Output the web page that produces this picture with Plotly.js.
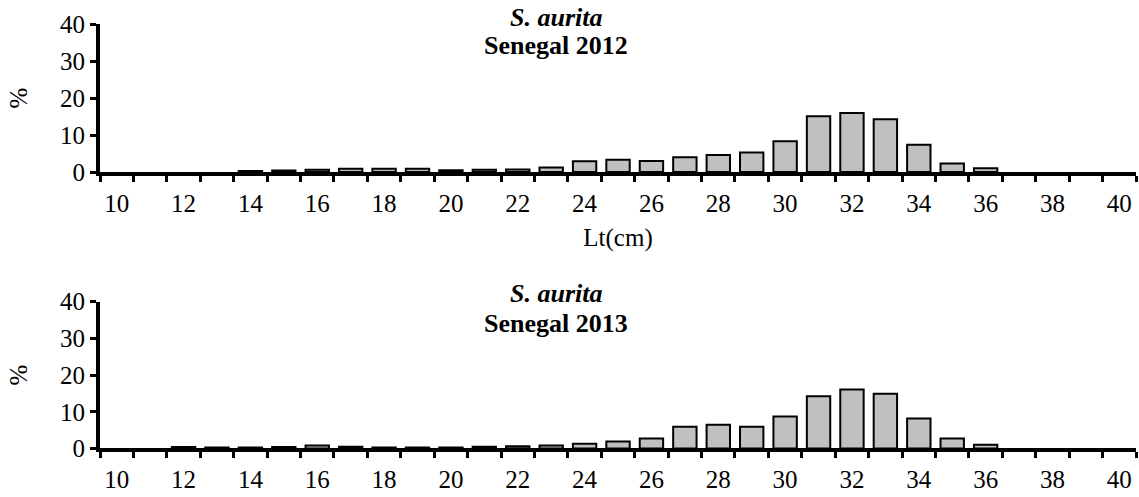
<!DOCTYPE html>
<html>
<head>
<meta charset="utf-8">
<script src="https://cdn.plot.ly/plotly-3.0.1.min.js"></script>
<style>html,body{margin:0;padding:0;background:#fff;}#chart{width:1139px;height:497px;}</style>
</head>
<body>
<div id="chart"></div>
<script>
// Length classes (cm)
const lengths = [10,11,12,13,14,15,16,17,18,19,20,21,22,23,24,25,26,27,28,29,30,31,32,33,34,35,36,37,38,39,40];
// Percent frequency, Senegal 2012
const pct2012 = [0,0,0,0,0.3,0.4,0.6,0.9,0.9,0.9,0.5,0.6,0.7,1.2,2.9,3.3,3.0,4.0,4.6,5.3,8.3,15.1,16.0,14.3,7.4,2.3,1.0,0,0,0,0];
// Percent frequency, Senegal 2013
const pct2013 = [0,0,0.4,0.3,0.3,0.4,0.8,0.5,0.3,0.3,0.3,0.5,0.6,0.8,1.3,1.9,2.7,5.9,6.5,5.9,8.7,14.2,16.1,14.9,8.2,2.7,1.0,0,0,0,0];
const tickLabels = ['10','12','14','16','18','20','22','24','26','28','30','32','34','36','38','40'];
const tickPositions = tickLabels.map(Number);
const boundaries = lengths.map(v => v - 0.5).concat([lengths[lengths.length-1] + 0.5]);

const font = '"Liberation Serif", "Times New Roman", Times, serif';
function barStyle(vals){
  return {color:'#C0C0C0', line:{color:'#000', width: vals.map(v => v > 0 ? 2 : 0)}};
}

const traces = [
  {type:'bar', x:lengths, y:pct2012, xaxis:'x', yaxis:'y', width:0.7, marker:barStyle(pct2012), hoverinfo:'x+y'},
  {type:'bar', x:lengths, y:pct2013, xaxis:'x2', yaxis:'y2', width:0.7, marker:barStyle(pct2013), hoverinfo:'x+y'}
];

function xax(anchor, withTitle){
  const a = {
    anchor: anchor, domain:[0.0878, 0.9974], range:[9.5, 40.5],
    tickmode:'array', tickvals:tickPositions, ticktext:tickLabels,
    ticks:'', showline:true, linecolor:'#000', linewidth:4,
    showgrid:false, zeroline:false, ticklabelstandoff:6,
    tickfont:{family:font, size:25, color:'#000'},
    minor:{tickmode:'array', tickvals:boundaries, ticks:'outside', ticklen:6, tickwidth:3, tickcolor:'#000', showgrid:false},
    fixedrange:true
  };
  if (withTitle) a.title = {text:'Lt(cm)', font:{family:font, size:25, color:'#000'}, standoff:13};
  return a;
}
function yax(anchor, domain){
  return {
    anchor: anchor, domain: domain, range:[0,40], tickmode:'linear', tick0:0, dtick:10,
    ticks:'outside', ticklen:6, tickwidth:3, tickcolor:'#000',
    showline:true, linecolor:'#000', linewidth:4, showgrid:false, zeroline:false,
    tickfont:{family:font, size:25, color:'#000'},
    title:{text:'%', font:{family:font, size:25, color:'#000'}, standoff:26},
    fixedrange:true
  };
}

const titleFont = {family:font, size:26, color:'#000'};
const layout = {
  width:1139, height:497,
  margin:{l:0, r:0, t:0, b:0},
  paper_bgcolor:'#fff', plot_bgcolor:'#fff',
  showlegend:false, bargap:0,
  font:{family:font, color:'#000'},
  xaxis: xax('y', true),
  yaxis: yax('x', [0.6539, 0.9511]),
  xaxis2: xax('y2', false),
  yaxis2: yax('x2', [0.0976, 0.3930]),
  annotations:[
    {xref:'paper', yref:'paper', x:556/1139, y:1-17/497, text:'<b><i>S. aurita</i></b>', showarrow:false, font:titleFont, xanchor:'center', yanchor:'middle', borderpad:0},
    {xref:'paper', yref:'paper', x:556/1139, y:1-45/497, text:'<b>Senegal 2012</b>', showarrow:false, font:titleFont, xanchor:'center', yanchor:'middle', borderpad:0},
    {xref:'paper', yref:'paper', x:556/1139, y:1-293/497, text:'<b><i>S. aurita</i></b>', showarrow:false, font:titleFont, xanchor:'center', yanchor:'middle', borderpad:0},
    {xref:'paper', yref:'paper', x:556/1139, y:1-323/497, text:'<b>Senegal 2013</b>', showarrow:false, font:titleFont, xanchor:'center', yanchor:'middle', borderpad:0}
  ]
};

Plotly.newPlot('chart', traces, layout, {displayModeBar:false, staticPlot:true});
</script>
</body>
</html>
